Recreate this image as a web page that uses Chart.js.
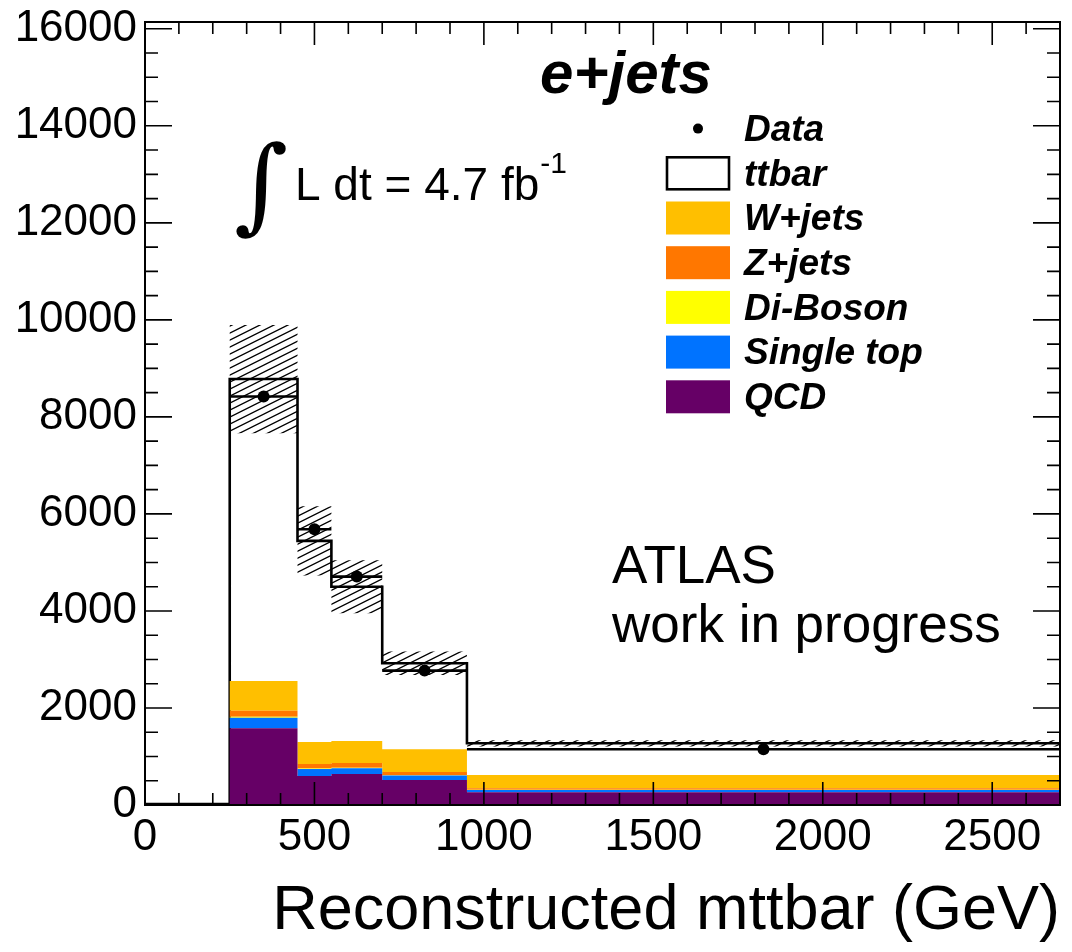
<!DOCTYPE html>
<html>
<head>
<meta charset="utf-8">
<title>Reconstructed mttbar - e+jets</title>
<script src="https://cdn.jsdelivr.net/npm/chart.js@4.4.0/dist/chart.umd.min.js"></script>
<style>
  html, body { margin: 0; padding: 0; background: #fff; }
  #wrap { width: 1072px; height: 952px; }
</style>
</head>
<body>
<div id="wrap"><canvas id="mttbarChart" width="1072" height="952"></canvas></div>
<script>
// bin edges (GeV)
const binEdges = [0, 250, 450, 550, 700, 950, 2700];

// expected events per bin, listed bottom of the stack first
const qcd       = [20, 1580, 600, 640, 515, 262];
const singleTop = [0, 220, 140, 120, 95, 47];
const diBoson   = [0, 20, 10, 10, 5, 5];
const zJets     = [0, 125, 95, 95, 65, 30];
const wJets     = [0, 610, 455, 455, 470, 275];
const ttbar     = [0, 6225, 4144, 3180, 1772, 653];

// uncertainty on the summed expectation (hatched band)
const totalErr  = [0, 1115, 712, 545, 240, 65];

// observed events, nothing in the first bin
const dataCounts = [null, 8420, 5685, 4708, 2770, 1150];

const xTicks = [0, 500, 1000, 1500, 2000, 2500];
const yTicks = [0, 2000, 4000, 6000, 8000, 10000, 12000, 14000, 16000];

const FONT = "'Liberation Sans', Arial, Helvetica, sans-serif";

// running sums give the top edge of every stacked sample
const parts = [qcd, singleTop, diBoson, zJets, wJets, ttbar];
const tops = [];
parts.forEach((p, k) => {
  tops.push(p.map((v, i) => v + (k ? tops[k - 1][i] : 0)));
});
const total = tops[tops.length - 1];

// histogram as a step line: one point per left edge plus the last right edge
function steps(values) {
  return binEdges.map((x, i) => ({ x, y: values[Math.min(i, values.length - 1)] }));
}

// horizontal bin-width bars for the data, broken between bins
const dataBars = [];
dataCounts.forEach((v, i) => {
  if (v === null) return;
  dataBars.push({ x: binEdges[i], y: v }, { x: binEdges[i + 1], y: v }, { x: binEdges[i + 1], y: null });
});
const dataPoints = dataCounts
  .map((v, i) => ({ x: (binEdges[i] + binEdges[i + 1]) / 2, y: v }))
  .filter(p => p.y !== null);

// diagonal hatch for the uncertainty band
function hatchPattern() {
  const tile = document.createElement('canvas');
  tile.width = 14; tile.height = 7;
  const g = tile.getContext('2d');
  g.strokeStyle = '#000';
  g.lineWidth = 1.3;
  g.beginPath();
  [0, 7, 14].forEach(c => { g.moveTo(-2, c + 1); g.lineTo(16, c - 8); });
  g.stroke();
  return document.createElement('canvas').getContext('2d').createPattern(tile, 'repeat');
}

const samples = [
  { label: 'QCD',        color: '#660066' },
  { label: 'Single top', color: '#0073ff' },
  { label: 'Di-Boson',   color: '#ffff00' },
  { label: 'Z+jets',     color: '#ff7700' },
  { label: 'W+jets',     color: '#ffbf00' }
];

const datasets = samples.map((s, k) => ({
  label: s.label,
  data: steps(tops[k]),
  stepped: true,
  borderWidth: 0,
  borderColor: s.color,
  backgroundColor: s.color,
  pointRadius: 0,
  fill: k === 0 ? 'origin' : '-1',
  order: 2
}));

datasets.push({
  label: 'ttbar',
  data: steps(total),
  stepped: true,
  borderWidth: 2.6,
  borderColor: '#000',
  backgroundColor: '#fff',
  pointRadius: 0,
  fill: false,
  order: 3
});

datasets.push({
  label: 'band low',
  data: steps(total.map((v, i) => v - totalErr[i])),
  stepped: true,
  borderWidth: 0,
  pointRadius: 0,
  fill: false,
  order: 4
});

datasets.push({
  label: 'band high',
  data: steps(total.map((v, i) => v + totalErr[i])),
  stepped: true,
  borderWidth: 0,
  pointRadius: 0,
  backgroundColor: hatchPattern(),
  fill: '-1',
  order: 4
});

datasets.push({
  label: 'data bars',
  data: dataBars,
  borderWidth: 2.6,
  borderColor: '#000',
  pointRadius: 0,
  spanGaps: false,
  fill: false,
  order: 1
});

datasets.push({
  label: 'Data',
  data: dataPoints,
  showLine: false,
  pointRadius: 6,
  pointBackgroundColor: '#000',
  pointBorderWidth: 0,
  order: 0
});

// frame with inward ticks on all four sides
const frameTicks = {
  id: 'frameTicks',
  afterDatasetsDraw(chart) {
    const { ctx, chartArea: a, scales: { x, y } } = chart;
    ctx.save();
    ctx.strokeStyle = '#000';
    ctx.lineWidth = 1.6;
    ctx.beginPath();
    for (let v = 0; v <= x.max; v += 100) {
      const px = x.getPixelForValue(v);
      const len = v % 500 === 0 ? 23 : 12;
      ctx.moveTo(px, a.bottom); ctx.lineTo(px, a.bottom - len);
      ctx.moveTo(px, a.top); ctx.lineTo(px, a.top + len);
    }
    for (let v = 0; v <= y.max; v += 500) {
      const py = y.getPixelForValue(v);
      const len = v % 2000 === 0 ? 27 : 13;
      ctx.moveTo(a.left, py); ctx.lineTo(a.left + len, py);
      ctx.moveTo(a.right, py); ctx.lineTo(a.right - len, py);
    }
    ctx.stroke();
    ctx.lineWidth = 2;
    ctx.strokeRect(a.left, a.top, a.right - a.left, a.bottom - a.top);
    ctx.restore();
  }
};

// legend, channel name, luminosity and experiment labels
const annotations = {
  id: 'annotations',
  afterDraw(chart) {
    const ctx = chart.ctx;
    ctx.save();
    ctx.fillStyle = '#000';
    ctx.textBaseline = 'alphabetic';

    ctx.font = "bold italic 60px " + FONT;
    ctx.textAlign = 'center';
    ctx.fillText('e+jets', 626, 93);

    ctx.textAlign = 'left';
    ctx.font = "104px 'DejaVu Serif', serif";
    ctx.fillText('\u222B', 234, 220);
    ctx.font = "46px " + FONT;
    ctx.fillText('L dt = 4.7 fb', 295, 200);
    const w = ctx.measureText('L dt = 4.7 fb').width;
    ctx.font = "30px " + FONT;
    ctx.fillText('-1', 295 + w + 1, 173);

    ctx.font = "53px " + FONT;
    ctx.fillText('ATLAS', 612, 583);
    ctx.fillText('work in progress', 612, 642);

    // legend rows
    const byLabel = l => chart.data.datasets.find(d => d.label === l);
    const rows = ['Data', 'ttbar', 'W+jets', 'Z+jets', 'Di-Boson', 'Single top', 'QCD'];
    ctx.font = "bold italic 37px " + FONT;
    ctx.textBaseline = 'middle';
    rows.forEach((label, i) => {
      const cy = 128.6 + i * 44.7;
      const ds = byLabel(label);
      if (label === 'Data') {
        ctx.beginPath();
        ctx.arc(698, cy, 5, 0, Math.PI * 2);
        ctx.fill();
      } else if (label === 'ttbar') {
        ctx.lineWidth = 2.6;
        ctx.strokeStyle = '#000';
        ctx.strokeRect(667, cy - 16, 62, 32);
      } else {
        ctx.fillStyle = ds.backgroundColor;
        ctx.fillRect(666, cy - 16.5, 64, 33);
      }
      ctx.fillStyle = '#000';
      ctx.fillText(label, 744, cy + 2);
    });
    ctx.restore();
  }
};

new Chart(document.getElementById('mttbarChart'), {
  type: 'line',
  data: { datasets },
  options: {
    responsive: false,
    animation: false,
    events: [],
    layout: { padding: { top: 22, right: 12, left: 0, bottom: 0 } },
    plugins: {
      legend: { display: false },
      tooltip: { enabled: false }
    },
    scales: {
      x: {
        type: 'linear',
        min: 0,
        max: 2700,
        grid: { display: false, drawTicks: false },
        border: { display: false },
        ticks: {
          autoSkip: false,
          maxRotation: 0,
          padding: 6,
          color: '#000',
          font: { family: FONT, size: 44 },
          callback: v => String(v)
        },
        title: {
          display: true,
          text: 'Reconstructed mttbar (GeV)',
          align: 'end',
          color: '#000',
          font: { family: FONT, size: 63 },
          padding: { top: 0, bottom: 3 }
        },
        afterBuildTicks: s => { s.ticks = xTicks.map(v => ({ value: v })); },
        afterFit: s => { s.height = 147; s.paddingLeft = 0; s.paddingRight = 0; }
      },
      y: {
        type: 'linear',
        min: 0,
        max: 16140,
        grid: { display: false, drawTicks: false },
        border: { display: false },
        ticks: {
          padding: 8,
          color: '#000',
          font: { family: FONT, size: 44 },
          callback: v => String(v)
        },
        afterBuildTicks: s => { s.ticks = yTicks.map(v => ({ value: v })); },
        afterFit: s => { s.width = 145; s.paddingTop = 0; s.paddingBottom = 0; }
      }
    }
  },
  plugins: [frameTicks, annotations]
});
</script>
</body>
</html>
